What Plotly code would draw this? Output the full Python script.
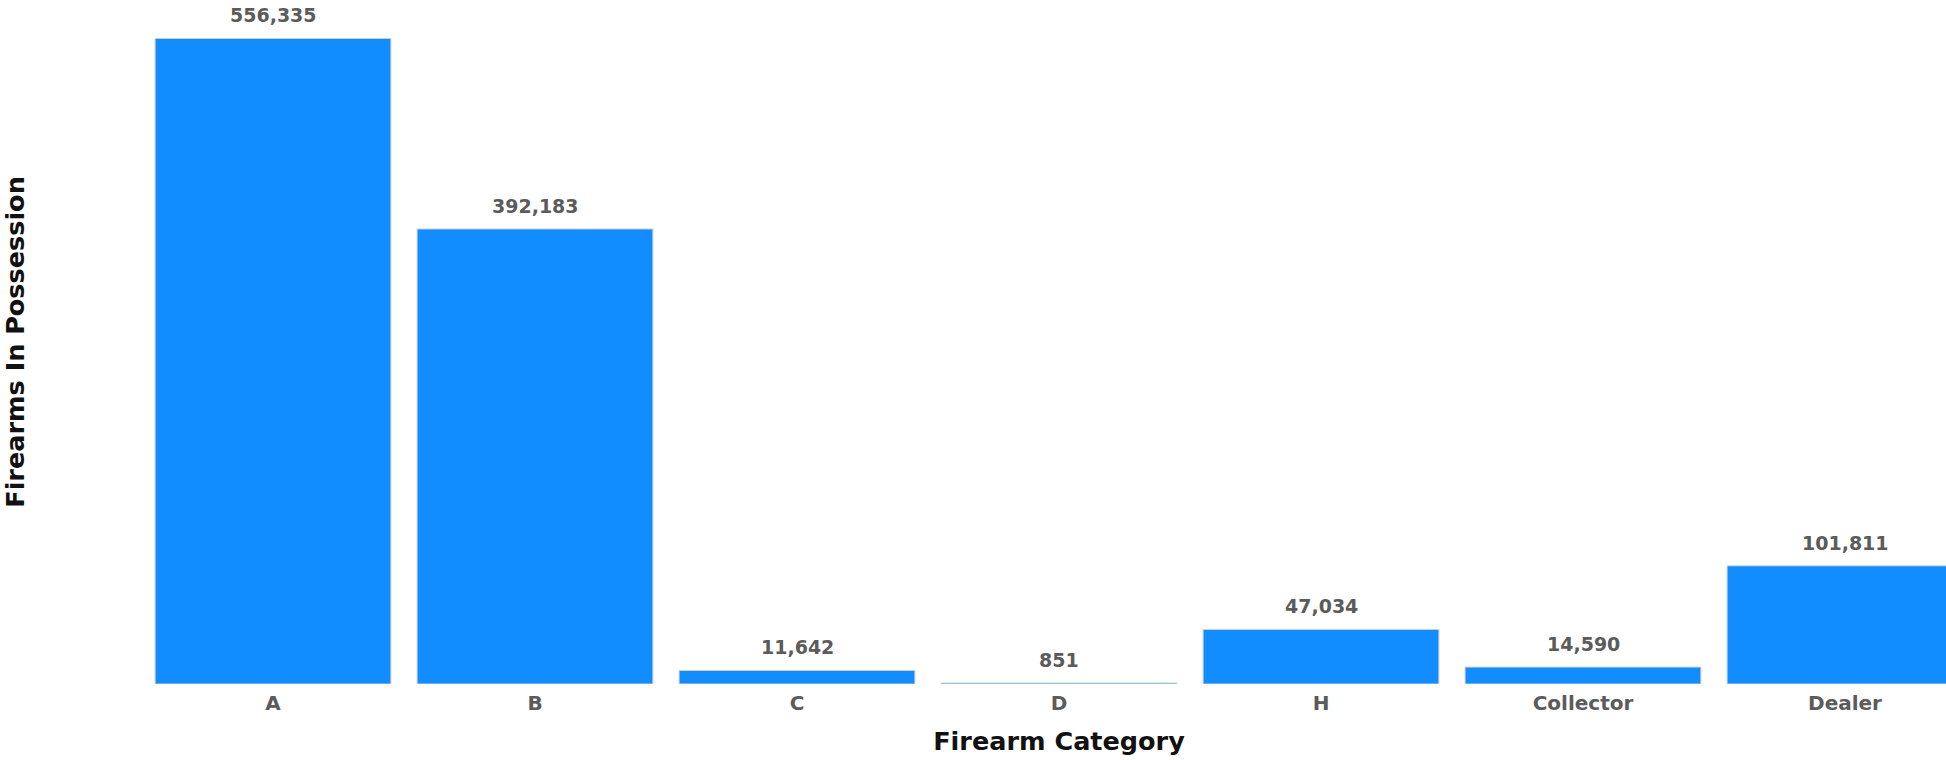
import plotly.graph_objects as go

categories = ["A", "B", "C", "D", "H", "Collector", "Dealer"]
firearms = [556335, 392183, 11642, 851, 47034, 14590, 101811]

x_title = "Firearm Category"
y_title = "Firearms In Possession"

BAR_COLOR = "#118DFF"
LABEL_COLOR = "#5b5b5b"
TITLE_COLOR = "#111111"
FONT = "DejaVu Sans, Arial Black, sans-serif"

fig = go.Figure()
fig.add_trace(go.Bar(
    x=categories,
    y=firearms,
    marker=dict(color=BAR_COLOR, line=dict(color="#cfcfcf", width=1)),
    hoverinfo="x+y",
))

for c, v in zip(categories, firearms):
    fig.add_annotation(
        x=c, y=v, text=f"<b>{v:,}</b>", showarrow=False,
        yanchor="bottom", yshift=10,
        font=dict(family=FONT, size=19, color=LABEL_COLOR),
    )

# The reference chart is wider than the window and is clipped on the right.
fig.update_layout(
    width=1980, height=760,
    margin=dict(l=142, r=4, t=0, b=76),
    plot_bgcolor="white", paper_bgcolor="white",
    bargap=0.1,
    showlegend=False,
    xaxis=dict(
        range=[-0.5, 6.5],
        showgrid=False, zeroline=False, showline=False,
        ticks="", ticklabelstandoff=5,
        tickfont=dict(family=FONT, size=20, color=LABEL_COLOR, weight="bold"),
        title=dict(text=x_title, standoff=18,
                   font=dict(family=FONT, size=25.5, color=TITLE_COLOR, weight="bold")),
        automargin=False,
    ),
    yaxis=dict(
        range=[0, 589516],
        showgrid=False, zeroline=False, showline=False, showticklabels=False,
        title=dict(text=y_title, standoff=117,
                   font=dict(family=FONT, size=25.5, color=TITLE_COLOR, weight="bold")),
        automargin=False,
    ),
)

fig.write_html(
    "out.html",
    config={"displayModeBar": False},
    post_script="document.body.style.margin='0px';document.body.style.overflow='hidden';",
)
